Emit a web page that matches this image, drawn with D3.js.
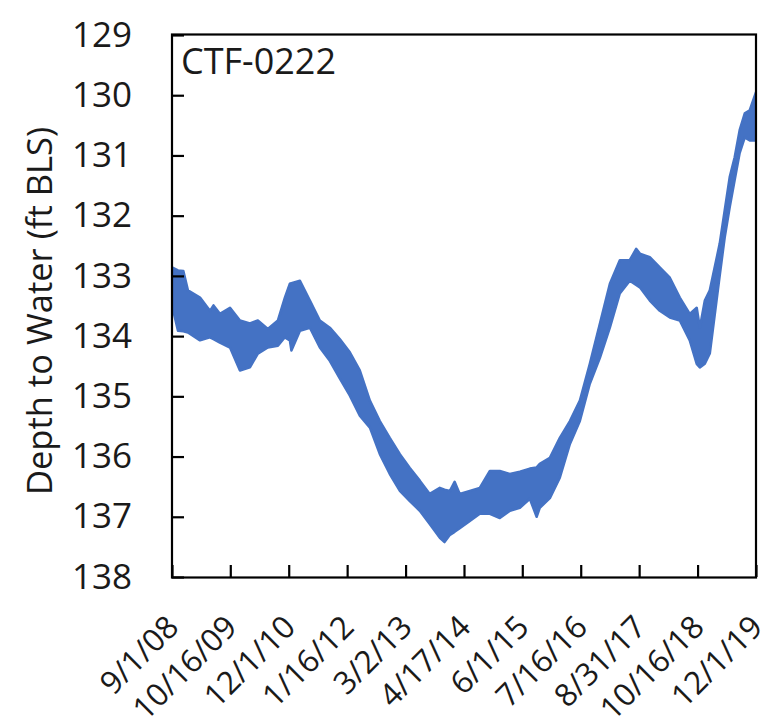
<!DOCTYPE html>
<html>
<head>
<meta charset="utf-8">
<script src="https://cdn.jsdelivr.net/npm/d3@7"></script>
<style>
  html, body { margin: 0; padding: 0; background: #fff; }
  svg { display: block; }
  text { font-family: "Open Sans", "Noto Sans", sans-serif; fill: #1a1a1a; }
</style>
</head>
<body>
<svg id="chart" width="782" height="728"></svg>
<script>
// ---- data ----
const wellName = "CTF-0222";
const yTitle = "Depth to Water (ft BLS)";
const yTicks = [129, 130, 131, 132, 133, 134, 135, 136, 137, 138];
const xTickLabels = ["9/1/08", "10/16/09", "12/1/10", "1/16/12", "3/2/13", "4/17/14",
                     "6/1/15", "7/16/16", "8/31/17", "10/16/18", "12/1/19"];
const dates = ["2008-09-01","2008-10-13","2008-11-20","2008-12-22","2009-03-17","2009-05-26","2009-06-20",
  "2009-08-04","2009-10-14","2009-12-23","2010-03-03","2010-04-28","2010-07-07","2010-09-16","2010-11-04",
  "2010-12-09","2010-12-20","2011-02-18","2011-04-29","2011-07-08","2011-09-16","2011-11-25","2012-02-04",
  "2012-04-14","2012-06-24","2012-09-02","2012-11-11","2013-01-21","2013-04-01","2013-06-10","2013-08-19",
  "2013-10-29","2013-12-01","2014-01-08","2014-02-10","2014-03-18","2014-05-28","2014-08-06","2014-10-16",
  "2014-12-25","2015-03-06","2015-05-15","2015-07-24","2015-09-10","2015-10-02","2015-12-12","2016-02-20",
  "2016-05-01","2016-07-10","2016-09-18","2016-11-28","2017-02-06","2017-04-17","2017-06-26","2017-08-10",
  "2017-09-05","2017-11-14","2018-01-23","2018-04-04","2018-06-13","2018-08-22","2018-10-10","2018-11-01",
  "2018-12-06","2019-01-10","2019-03-21","2019-04-25","2019-05-30","2019-07-04","2019-08-08","2019-09-13",
  "2019-10-18","2019-12-01"];
// shallowest reading in each window (upper edge of the band)
const depthMin = [132.86,132.91,132.92,133.24,133.36,133.58,133.49,
  133.63,133.53,133.74,133.79,133.74,133.88,133.74,133.36,
  133.13,133.12,133.08,133.41,133.74,133.86,134.05,134.27,
  134.57,135.07,135.41,135.69,135.96,136.19,136.40,136.62,
  136.52,136.55,136.57,136.42,136.62,136.57,136.52,136.24,
  136.24,136.29,136.25,136.20,136.18,136.12,136.02,135.69,
  135.41,135.07,134.46,133.79,133.13,132.74,132.74,132.55,
  132.63,132.69,132.86,133.03,133.36,133.63,133.53,133.86,
  133.41,133.24,132.46,131.91,131.36,131.03,130.58,130.30,
  130.25,129.95];
// deepest reading in each window (lower edge of the band)
const depthMax = [133.49,133.91,133.92,133.94,134.07,134.02,134.05,
  134.11,134.19,134.57,134.52,134.29,134.19,134.16,134.02,
  134.07,134.24,133.91,133.86,134.19,134.41,134.70,134.99,
  135.32,135.52,135.96,136.29,136.57,136.74,136.90,137.12,
  137.35,137.42,137.30,137.25,137.19,137.07,136.95,136.95,
  137.02,136.90,136.85,136.70,137.00,136.85,136.69,136.35,
  135.79,135.41,134.79,134.36,133.86,133.29,133.08,133.15,
  133.19,133.41,133.58,133.69,133.74,134.07,134.46,134.52,
  134.46,134.29,132.99,132.36,131.86,131.41,130.96,130.70,
  130.75,130.75];

// ---- layout ----
const svg = d3.select("#chart");
const L = 172, R = 756, T = 35, B = 577;
const parseISO = d3.timeParse("%Y-%m-%d");
const parseTick = d3.timeParse("%m/%d/%y");
const tickDates = xTickLabels.map(parseTick);

const x = d3.scaleTime().domain([tickDates[0], tickDates[tickDates.length - 1]]).range([L, R]);
const y = d3.scaleLinear().domain([129, 138]).range([T, B]);

const data = dates.map((d, i) => ({ t: parseISO(d), lo: depthMin[i], hi: depthMax[i] }));

svg.append("clipPath").attr("id", "plotclip")
  .append("rect").attr("x", L).attr("y", T).attr("width", R - L).attr("height", B - T);

const blue = "#4472C4";
svg.append("path")
  .datum(data)
  .attr("clip-path", "url(#plotclip)")
  .attr("fill", blue)
  .attr("stroke", blue)
  .attr("stroke-width", 2.5)
  .attr("stroke-linejoin", "round")
  .attr("d", d3.area().x(d => x(d.t)).y0(d => y(d.hi)).y1(d => y(d.lo)));

// frame
svg.append("rect")
  .attr("x", L).attr("y", T - 0.5).attr("width", R - L).attr("height", B - T + 1)
  .attr("fill", "none").attr("stroke", "#000").attr("stroke-width", 2.2);

// y axis (ticks inward)
const yAxis = d3.axisLeft(y).tickValues(yTicks).tickSize(-12).tickPadding(40).tickFormat(d3.format("d"));
const gy = svg.append("g").attr("transform", `translate(${L},0)`).call(yAxis);
gy.select(".domain").remove();
gy.selectAll(".tick line").attr("stroke", "#000").attr("stroke-width", 2.2);
gy.selectAll(".tick text").attr("font-size", 35).attr("fill", "#1a1a1a")
  .style("font-family", "'Open Sans', sans-serif");

// x axis (ticks inward)
const xAxis = d3.axisBottom(x).tickValues(tickDates).tickSize(-12).tickFormat((d, i) => xTickLabels[i]);
const gx = svg.append("g").attr("transform", `translate(0,${B})`).call(xAxis);
gx.select(".domain").remove();
gx.selectAll(".tick line").attr("stroke", "#000").attr("stroke-width", 2.2);
gx.selectAll(".tick text")
  .attr("font-size", 31.5).attr("fill", "#1a1a1a")
  .style("font-family", "'Open Sans', sans-serif")
  .attr("text-anchor", "end")
  .attr("y", 0).attr("dy", 0)
  .attr("transform", "translate(8,52) rotate(-45)");

// y axis title
svg.append("text")
  .attr("transform", `translate(52,311) rotate(-90)`)
  .attr("text-anchor", "middle")
  .attr("font-size", 34.5)
  .text(yTitle);

// well label
svg.append("text")
  .attr("x", 181).attr("y", 74)
  .attr("font-size", 36)
  .text(wellName);
</script>
</body>
</html>
